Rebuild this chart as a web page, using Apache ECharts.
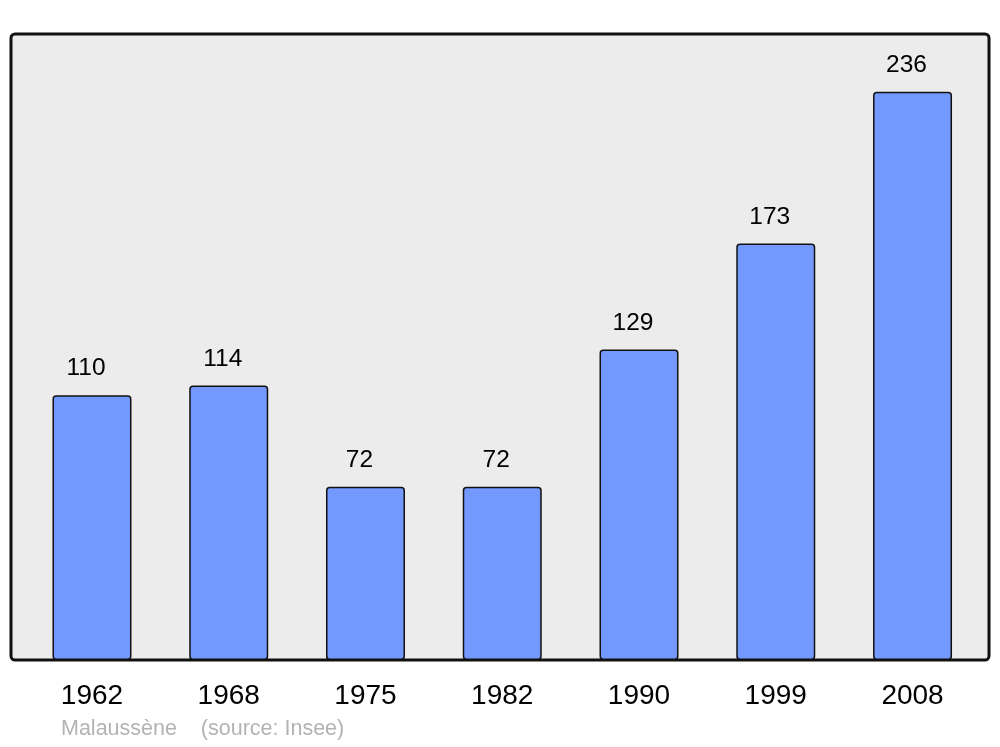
<!DOCTYPE html>
<html>
<head>
<meta charset="utf-8">
<script src="https://cdn.jsdelivr.net/npm/echarts@6/dist/echarts.min.js"></script>
<style>html,body{margin:0;padding:0;background:#fff}#c{width:1000px;height:747px}</style>
</head>
<body>
<div id="c"></div>
<script>
const years = ['1962','1968','1975','1982','1990','1999','2008'];
const population = [110, 114, 72, 72, 129, 173, 236];
const footerText = 'Malaussène    (source: Insee)';

const chart = echarts.init(document.getElementById('c'), null, {renderer: 'canvas'});
chart.setOption({
  animation: false,
  backgroundColor: '#ffffff',
  textStyle: {fontFamily: 'Liberation Sans, Arial, sans-serif'},
  grid: {left: 23.6, right: 19.1, top: 34, bottom: 87},
  graphic: [
    {type: 'rect', z: -10, silent: true,
     shape: {x: 11, y: 34, width: 978, height: 626, r: 4},
     style: {fill: '#ececec', stroke: '#111111', lineWidth: 3}},
    {type: 'text', left: 61, top: 718, silent: true,
     style: {text: footerText, fill: '#b3b3b3', font: '21.5px "Liberation Sans", Arial, sans-serif'}}
  ],
  xAxis: {
    type: 'category', data: years,
    axisLine: {show: false}, axisTick: {show: false},
    axisLabel: {color: '#000', fontSize: 28, margin: 22, fontFamily: 'Liberation Sans'}
  },
  yAxis: {type: 'value', min: 0, max: 260, show: false, splitLine: {show: false}},
  series: [{
    type: 'bar', data: population, barWidth: 79,
    itemStyle: {color: '#7399ff', borderColor: '#111111', borderWidth: 1.5, borderRadius: 3},
    label: {show: true, position: 'top', distance: 14, offset: [-6, 0], color: '#000', fontSize: 24.5, fontFamily: 'Liberation Sans'}
  }]
});
</script>
</body>
</html>
